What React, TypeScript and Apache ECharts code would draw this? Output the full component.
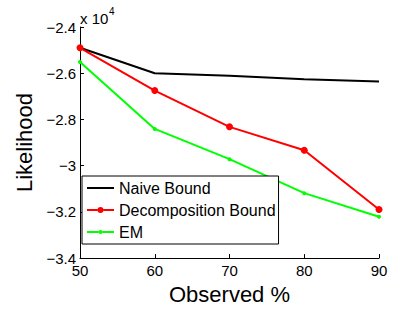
import React, { useEffect, useRef } from "react";
import * as echarts from "echarts";

const xValues = [50, 60, 70, 80, 90];
const naiveBound = [-24900, -26000, -26110, -26260, -26360];
const decompositionBound = [-24900, -26750, -28320, -29330, -31900];
const emValues = [-25510, -28410, -29720, -31190, -32210];
const seriesNames = ["Naive Bound", "Decomposition Bound", "EM"];

const FONT = "'Liberation Sans', Arial, Helvetica, sans-serif";

const iconLine = "path://M0,3L27,3L27,5L0,5Z";
const iconBigDot =
  "path://M0,3L10.5,3L10.5,5L0,5ZM16.5,3L27,3L27,5L16.5,5ZM10.5,4A3,3 0 1 1 16.5,4A3,3 0 1 1 10.5,4Z";
const iconSmallDot =
  "path://M0,3L11.5,3L11.5,5L0,5ZM15.5,3L27,3L27,5L15.5,5ZM11.5,4A2,2 0 1 1 15.5,4A2,2 0 1 1 11.5,4Z";

export default function App() {
  const ref = useRef<HTMLDivElement>(null);
  useEffect(() => {
    document.body.style.margin = "0";
    if (!ref.current) return;
    const chart = echarts.init(ref.current, undefined, { renderer: "svg" });
    const pair = (arr: number[]) => xValues.map((x, i) => [x, arr[i]]);
    chart.setOption({
      animation: false,
      backgroundColor: "#ffffff",
      grid: { left: 80, right: 15, top: 27, bottom: 47, containLabel: false },
      xAxis: {
        type: "value",
        min: 50,
        max: 90,
        interval: 10,
        name: "Observed %",
        nameLocation: "middle",
        nameGap: 17,
        nameTextStyle: { fontFamily: FONT, fontSize: 22, color: "#000" },
        axisLine: { show: true, onZero: false, lineStyle: { color: "#000", width: 1 } },
        axisTick: { show: true, inside: true, length: 4, lineStyle: { color: "#000" } },
        axisLabel: { fontFamily: FONT, fontSize: 15, color: "#000", margin: 5 },
        splitLine: { show: false },
      },
      yAxis: {
        type: "value",
        min: -34000,
        max: -24000,
        interval: 2000,
        name: "Likelihood",
        nameLocation: "middle",
        nameRotate: 90,
        nameGap: 43,
        nameTextStyle: { fontFamily: FONT, fontSize: 22, color: "#000" },
        axisLine: { show: true, onZero: false, lineStyle: { color: "#000", width: 1 } },
        axisTick: { show: true, inside: true, length: 4, lineStyle: { color: "#000" } },
        axisLabel: {
          fontFamily: FONT,
          fontSize: 15,
          color: "#000",
          margin: 4,
          formatter: (v: number) => {
            const s = String(Math.round((v / 10000) * 10) / 10);
            return s.replace("-", "\u2212");
          },
        },
        splitLine: { show: false },
      },
      legend: {
        orient: "vertical",
        left: 82,
        top: 176,
        padding: [3, 3, 3, 5],
        itemGap: 4,
        itemWidth: 27,
        itemHeight: 8,
        backgroundColor: "#ffffff",
        borderColor: "#000",
        borderWidth: 1,
        borderRadius: 0,
        itemStyle: { borderWidth: 0 },
        textStyle: { fontFamily: FONT, fontSize: 16, color: "#000", lineHeight: 18 },
        data: [
          { name: seriesNames[0], icon: iconLine },
          { name: seriesNames[1], icon: iconBigDot },
          { name: seriesNames[2], icon: iconSmallDot },
        ],
      },
      graphic: [
        {
          type: "text",
          left: 80,
          top: 11,
          style: { text: "x 10", font: `15px ${FONT}`, fill: "#000" },
        },
        {
          type: "text",
          left: 109,
          top: 6,
          style: { text: "4", font: `10px ${FONT}`, fill: "#000" },
        },
      ],
      series: [
        {
          name: seriesNames[0],
          type: "line",
          data: pair(naiveBound),
          symbol: "none",
          lineStyle: { color: "#000000", width: 2 },
          itemStyle: { color: "#000000" },
        },
        {
          name: seriesNames[1],
          type: "line",
          data: pair(decompositionBound),
          symbol: "circle",
          symbolSize: 7,
          lineStyle: { color: "#ff0000", width: 2 },
          itemStyle: { color: "#ff0000" },
        },
        {
          name: seriesNames[2],
          type: "line",
          data: pair(emValues),
          symbol: "circle",
          symbolSize: 4,
          lineStyle: { color: "#00ff00", width: 2 },
          itemStyle: { color: "#00ff00" },
        },
      ],
    });
    return () => chart.dispose();
  }, []);
  return <div ref={ref} style={{ width: 394, height: 310 }} />;
}
